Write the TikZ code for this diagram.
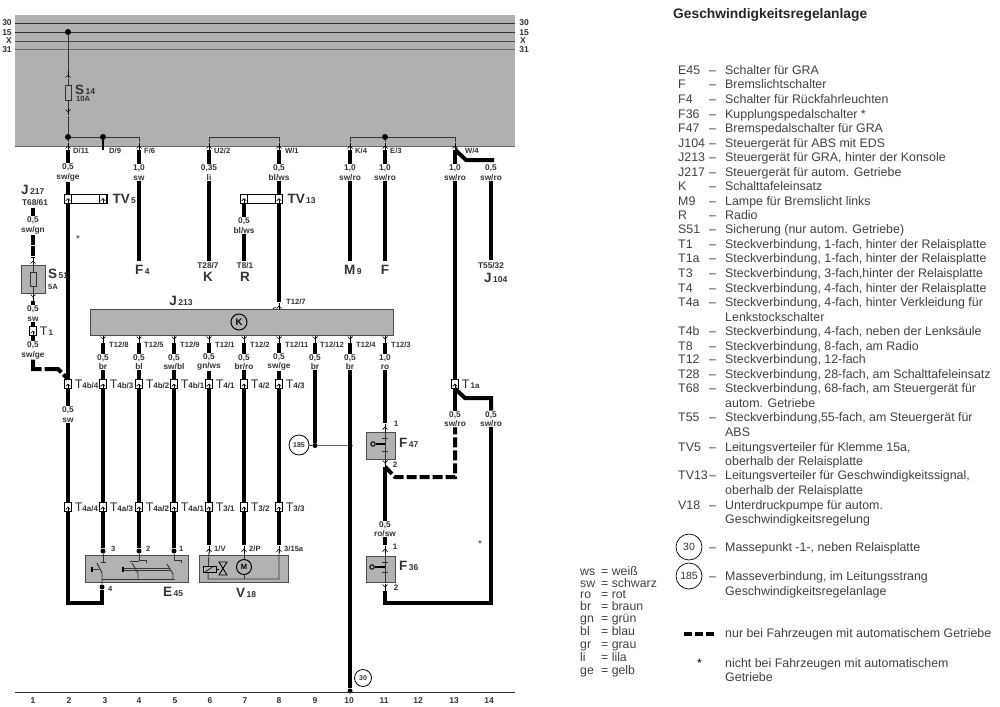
\documentclass[tikz,border=0pt]{standalone}
\usepackage{fontspec}
\setmainfont{Liberation Sans}
\usetikzlibrary{positioning}

\newcommand{\unitname}[2]{{\fontsize{13.5}{14}\selectfont\bfseries #1}{\fontsize{8.5}{9}\selectfont\bfseries #2}}
\newcommand{\plugname}[2]{{\fontsize{12.5}{14}\selectfont #1}{\fontsize{8}{9}\selectfont\bfseries #2}}
\newcommand{\legcode}[1]{\makebox[31pt][l]{#1}\makebox[16pt][l]{–}}

\begin{document}
\begin{tikzpicture}[x=1pt, y=-1pt,
	wire/.style={line width=4pt},
	autowire/.style={line width=4pt, dash pattern=on 10pt off 3pt},
	thinwire/.style={line width=0.9pt, black!80},
	main/.style={inner sep=0pt, text=black!80},
	wlab/.style={main, font=\fontsize{8.3}{9.5}\selectfont\bfseries, align=center, inner sep=0.5pt},
	pinlab/.style={main, font=\fontsize{7.6}{9}\selectfont\bfseries, anchor=west},
	plate/.style={main, anchor=west},
	legend/.style={anchor=west, inner sep=0pt, text=black!75, text height=9.4pt, text depth=1.4pt, font=\fontsize{12.4}{14}\selectfont},
	keyrow/.style={anchor=west, inner sep=0pt, text=black!75, text height=9.4pt, text depth=1.4pt, font=\fontsize{12.3}{14}\selectfont},
	colnum/.style={main, font=\fontsize{8.5}{9}\selectfont\bfseries},
	busnum/.style={main, font=\fontsize{8.5}{9}\selectfont\bfseries},
	dot/.style={circle, fill=black, inner sep=0pt, minimum size=6pt},
	smalldot/.style={circle, fill=black, inner sep=0pt, minimum size=5pt},
	fuse/.style={draw=black!80, line width=0.7pt, inner sep=0pt, minimum width=6pt, minimum height=15pt},
	unit/.style={draw=black!70, fill=black!30, line width=0.8pt, inner sep=0pt},
	massesym/.style={draw, circle, inner sep=0pt, line width=0.8pt, font=\fontsize{7}{8}\selectfont\bfseries, text=black!80},
	masselegend/.style={draw, circle, inner sep=0pt, line width=0.7pt, minimum size=26pt, font=\fontsize{10.5}{11}\selectfont, text=black!80},
	pinup/.style={inner sep=0pt, minimum width=6pt, minimum height=7pt, path picture={
		\draw[line width=0.7pt] (path picture bounding box.south) -- (path picture bounding box.north);
		\draw[line width=0.7pt] ([shift={(-2.5,2.5)}]path picture bounding box.center) -- (path picture bounding box.center) -- ([shift={(2.5,2.5)}]path picture bounding box.center);}},
	pindown/.style={inner sep=0pt, minimum width=6pt, minimum height=7pt, path picture={
		\draw[line width=0.7pt] (path picture bounding box.south) -- (path picture bounding box.north);
		\draw[line width=0.7pt] ([shift={(-2.5,-2.5)}]path picture bounding box.center) -- (path picture bounding box.center) -- ([shift={(2.5,-2.5)}]path picture bounding box.center);}},
	plug/.style={draw, fill=white, line width=0.6pt, inner sep=0pt, minimum width=7.5pt, minimum height=9pt, path picture={
		\draw[line width=0.7pt] (path picture bounding box.south) -- (path picture bounding box.center);
		\draw[line width=0.7pt] ([shift={(-2.3,2.3)}]path picture bounding box.center) -- (path picture bounding box.center) -- ([shift={(2.3,2.3)}]path picture bounding box.center);}}]

	\useasboundingbox (0,0) rectangle (1000,706);

	% panel with the four rails
	\fill[black!31] (15,15) rectangle (515,146);
	\coordinate (rail30a) at (15,23);
	\coordinate (rail30b) at (515,23);
	\coordinate (rail15a) at (15,32);
	\coordinate (rail15b) at (515,32);
	\coordinate (railxa) at (15,41);
	\coordinate (railxb) at (515,41);
	\coordinate (rail31a) at (15,50);
	\coordinate (rail31b) at (515,50);
	\coordinate (edgea) at (15,146);
	\coordinate (edgeb) at (515,146);
	\draw[line width=0.8pt, black!80] (rail30a) to (rail30b);
	\draw[line width=0.8pt, black!80] (rail15a) to (rail15b);
	\draw[line width=0.9pt, black!70] (railxa) to (railxb);
	\draw[line width=1pt, black!60] (rail31a) to (rail31b);
	\draw[line width=1pt, black!60] (edgea) to (edgeb);
	\node[busnum] (n30a) at (7,23) {30};
	\node[busnum] (n15a) at (7,33) {15};
	\node[busnum] (nxa) at (9,41) {X};
	\node[busnum] (n31a) at (7,50) {31};
	\node[busnum] (n30b) at (524,23) {30};
	\node[busnum] (n15b) at (524,33) {15};
	\node[busnum] (nxb) at (523,41) {X};
	\node[busnum] (n31b) at (524,50) {31};

	% fuse S14 and the feed
	\node[dot] (d15) at (68,32) {};
	\node[fuse] (s14) at (68,93) {};
	\node[dot] (dfeed) at (68,137) {};
	\node[dot] (dd9) at (103,137) {};
	\node[pinup] (s14up) at (68,75) {};
	\node[pindown] (s14dn) at (68,112) {};
	\node[plate] (ls14) at (75,90) {\unitname{S}{\,14}};
	\node[pinlab] (ls14a) at (76,99) {10A};
	\draw[thinwire] (d15) to (s14up);
	\draw[thinwire] (s14up) to (s14);
	\draw[thinwire] (s14) to (s14dn);
	\draw[thinwire] (s14dn) to (dfeed);

	% pins under the panel
	\node[pinup] (pd11) at (68,146) {};
	\node[pinup] (pf6) at (139,146) {};
	\node[pinup] (pu2) at (209,146) {};
	\node[pinup] (pw1) at (279,146) {};
	\node[pinup] (pk4) at (350,146) {};
	\node[pinup] (pe3) at (385,146) {};
	\node[pinup] (pw4) at (455,146) {};
	\node[dot] (de3) at (385,137) {};
	\coordinate (cf6) at (139,137);
	\coordinate (cu2) at (209,137);
	\coordinate (cw1) at (279,137);
	\coordinate (ck4) at (350,137);
	\coordinate (cw4) at (455,137);
	\coordinate (cd9) at (103,150);
	\draw[thinwire] (dfeed) to (pd11);
	\draw[thinwire] (dfeed) to (dd9);
	\draw[thinwire] (dd9) -- (cf6) -- (pf6);
	\draw[line width=1.5pt] (dd9) to (cd9);
	\draw[thinwire] (pu2) -- (cu2) -- (cw1) -- (pw1);
	\draw[thinwire] (pk4) -- (ck4) -- (de3);
	\draw[thinwire] (de3) -- (cw4) -- (pw4);
	\draw[thinwire] (de3) to (pe3);
	\node[pinlab] (ld11) at (73,151) {D/11};
	\node[pinlab] (ld9) at (109,151) {D/9};
	\node[pinlab] (lf6) at (144,151) {F/6};
	\node[pinlab] (lu2) at (214,151) {U2/2};
	\node[pinlab] (lw1) at (285,151) {W/1};
	\node[pinlab] (lk4) at (355,151) {K/4};
	\node[pinlab] (le3) at (390,151) {E/3};
	\node[pinlab] (lw4) at (465,151) {W/4};

	% upper wires
	\node[wlab] (w2) at (68,172.5) {0,5\\sw/ge};
	\node[wlab] (w4) at (139,172.5) {1,0\\sw};
	\node[wlab] (w6) at (209,172.5) {0,35\\li};
	\node[wlab] (w8) at (279,172.5) {0,5\\bl/ws};
	\node[wlab] (w10) at (350,172.5) {1,0\\sw/ro};
	\node[wlab] (w11) at (385,172.5) {1,0\\sw/ro};
	\node[wlab] (w13) at (455,172.5) {1,0\\sw/ro};
	\node[wlab] (w14) at (491,172.5) {0,5\\sw/ro};
	\node[wlab] (w7) at (244,225.5) {0,5\\bl/ws};
	\coordinate (ef4) at (139,261);
	\coordinate (ek) at (209,261);
	\coordinate (er) at (244,261);
	\coordinate (em9) at (350,261);
	\coordinate (ef) at (385,261);
	\coordinate (ej104) at (491,260);
	\coordinate (kink) at (466,160);
	\coordinate (top14) at (494,160);
	\draw[wire] (pd11) to (w2);
	\draw[wire] (pf6) to (w4);
	\draw[wire] (w4) to (ef4);
	\draw[wire] (pu2) to (w6);
	\draw[wire] (w6) to (ek);
	\draw[wire] (pw1) to (w8);
	\draw[wire] (pk4) to (w10);
	\draw[wire] (w10) to (em9);
	\draw[wire] (pe3) to (w11);
	\draw[wire] (w11) to (ef);
	\draw[wire] (pw4) to (w13);
	\draw[wire] (pw4.south) -- (kink) -- (top14);
	\draw[wire] (w14) to (ej104);
	\node[plate] (lf4) at (135,270) {\unitname{F}{\,4}};
	\node[wlab] (lt28) at (208,266) {T28/7};
	\node[main] (lk) at (208,277) {\fontsize{13.5}{14}\selectfont\bfseries K};
	\node[wlab] (lt8) at (245,266) {T8/1};
	\node[main] (lr) at (245,277) {\fontsize{13.5}{14}\selectfont\bfseries R};
	\node[plate] (lm9) at (344,270) {\unitname{M}{\,9}};
	\node[main] (lf) at (385,270) {\fontsize{13.5}{14}\selectfont\bfseries F};
	\node[wlab] (lt55) at (491,266) {T55/32};
	\node[plate] (lj104) at (484,278) {\unitname{J}{\,104}};

	% line distributors
	\node[draw, fill=white, line width=0.6pt, inner sep=0pt, minimum width=42pt, minimum height=9pt] (tv5) at (86,198.5) {};
	\node[plug] (tv5a) at (68,198.5) {};
	\node[plug] (tv5b) at (103,198.5) {};
	\node[plate, right=5pt of tv5] (ltv5) {\unitname{TV}{\,5}};
	\node[draw, fill=white, line width=0.6pt, inner sep=0pt, minimum width=42pt, minimum height=9pt] (tv13) at (261,198.5) {};
	\node[plug] (tv13a) at (244,198.5) {};
	\node[plug] (tv13b) at (279,198.5) {};
	\node[plate, right=5pt of tv13] (ltv13) {\unitname{TV}{\,13}};
	\node[main] (star1) at (78,239) {*};
	\draw[wire] (w2) to (tv5a);
	\draw[wire] (w8) to (tv13b);
	\draw[wire] (tv13a) to (w7);
	\draw[wire] (w7) to (er);

	% control unit J213
	\node[unit, minimum width=303pt, minimum height=26pt] (j213) at (241.5,322) {};
	\node[draw, circle, line width=1pt, minimum size=16pt, inner sep=0pt, font=\fontsize{9.5}{10}\selectfont\bfseries] (kclock) at (239,322) {K};
	\node[main] (lj213) at (181,301) {\unitname{J}{\,213}};
	\node[pinup] (pt127) at (279,306) {};
	\node[pinlab] (lt127) at (286,302) {T12/7};
	\draw[wire] (tv13b) to (pt127);
	\draw[thinwire] (pt127) to (j213);
	\node[pindown] (p1) at (103,339) {};
	\node[pindown] (p2) at (139,339) {};
	\node[pindown] (p3) at (174,339) {};
	\node[pindown] (p4) at (209,339) {};
	\node[pindown] (p5) at (244,339) {};
	\node[pindown] (p6) at (279,339) {};
	\node[pindown] (p7) at (315,339) {};
	\node[pindown] (p8) at (350,339) {};
	\node[pindown] (p9) at (385,339) {};
	\node[pinlab] (lp1) at (109,345) {T12/8};
	\node[pinlab] (lp2) at (144,345) {T12/5};
	\node[pinlab] (lp3) at (180,345) {T12/9};
	\node[pinlab] (lp4) at (215,345) {T12/1};
	\node[pinlab] (lp5) at (250,345) {T12/2};
	\node[pinlab] (lp6) at (285,345) {T12/11};
	\node[pinlab] (lp7) at (320,345) {T12/12};
	\node[pinlab] (lp8) at (356,345) {T12/4};
	\node[pinlab] (lp9) at (391,345) {T12/3};
	\node[wlab] (c3) at (103,362) {0,5\\br};
	\node[wlab] (c4) at (139,362) {0,5\\bl};
	\node[wlab] (c5) at (174,362) {0,5\\sw/bl};
	\node[wlab] (c6) at (209,362) {0,5\\gn/ws};
	\node[wlab] (c7) at (244,362) {0,5\\br/ro};
	\node[wlab] (c8) at (279,362) {0,5\\sw/ge};
	\node[wlab] (c9) at (315,362) {0,5\\br};
	\node[wlab] (c10) at (350,362) {0,5\\br};
	\node[wlab] (c11) at (385,362) {1,0\\ro};

	% upper row of plugs
	\node[plug] (b2) at (68,384) {};
	\node[plug] (b3) at (103,384) {};
	\node[plug] (b4) at (139,384) {};
	\node[plug] (b5) at (174,384) {};
	\node[plug] (b6) at (209,384) {};
	\node[plug] (b7) at (244,384) {};
	\node[plug] (b8) at (279,384) {};
	\node[plate, right=2.5pt of b2] (lb2) {\plugname{T}{4b/4}};
	\node[plate, right=2.5pt of b3] (lb3) {\plugname{T}{4b/3}};
	\node[plate, right=2.5pt of b4] (lb4) {\plugname{T}{4b/2}};
	\node[plate, right=2.5pt of b5] (lb5) {\plugname{T}{4b/1}};
	\node[plate, right=2.5pt of b6] (lb6) {\plugname{T}{4/1}};
	\node[plate, right=2.5pt of b7] (lb7) {\plugname{T}{4/2}};
	\node[plate, right=2.5pt of b8] (lb8) {\plugname{T}{4/3}};
	\node[wlab] (c2) at (68,414.5) {0,5\\sw};
	\draw[wire] (tv5a) to (b2);
	\draw[wire] (b2) to (c2);
	\draw[wire] (p1) to (c3);
	\draw[wire] (p2) to (c4);
	\draw[wire] (p3) to (c5);
	\draw[wire] (p4) to (c6);
	\draw[wire] (p5) to (c7);
	\draw[wire] (p6) to (c8);
	\draw[wire] (p7) to (c9);
	\draw[wire] (p8) to (c10);
	\draw[wire] (p9) to (c11);
	\draw[thinwire] (j213.south -| p1) to (p1);
	\draw[thinwire] (j213.south -| p2) to (p2);
	\draw[thinwire] (j213.south -| p3) to (p3);
	\draw[thinwire] (j213.south -| p4) to (p4);
	\draw[thinwire] (j213.south -| p5) to (p5);
	\draw[thinwire] (j213.south -| p6) to (p6);
	\draw[thinwire] (j213.south -| p7) to (p7);
	\draw[thinwire] (j213.south -| p8) to (p8);
	\draw[thinwire] (j213.south -| p9) to (p9);
	\draw[wire] (c3) to (b3);
	\draw[wire] (c4) to (b4);
	\draw[wire] (c5) to (b5);
	\draw[wire] (c6) to (b6);
	\draw[wire] (c7) to (b7);
	\draw[wire] (c8) to (b8);

	% lower row of plugs
	\node[plug] (a2) at (68,507) {};
	\node[plug] (a3) at (103,507) {};
	\node[plug] (a4) at (139,507) {};
	\node[plug] (a5) at (174,507) {};
	\node[plug] (a6) at (209,507) {};
	\node[plug] (a7) at (244,507) {};
	\node[plug] (a8) at (279,507) {};
	\node[plate, right=2.5pt of a2] (la2) {\plugname{T}{4a/4}};
	\node[plate, right=2.5pt of a3] (la3) {\plugname{T}{4a/3}};
	\node[plate, right=2.5pt of a4] (la4) {\plugname{T}{4a/2}};
	\node[plate, right=2.5pt of a5] (la5) {\plugname{T}{4a/1}};
	\node[plate, right=2.5pt of a6] (la6) {\plugname{T}{3/1}};
	\node[plate, right=2.5pt of a7] (la7) {\plugname{T}{3/2}};
	\node[plate, right=2.5pt of a8] (la8) {\plugname{T}{3/3}};
	\draw[wire] (c2) to (a2);
	\draw[wire] (b3) to (a3);
	\draw[wire] (b4) to (a4);
	\draw[wire] (b5) to (a5);
	\draw[wire] (b6) to (a6);
	\draw[wire] (b7) to (a7);
	\draw[wire] (b8) to (a8);

	% switch unit E45
	\node[unit, minimum width=103pt, minimum height=27pt] (e45) at (136.5,568.5) {};
	\node[smalldot] (e3) at (103,551) {};
	\node[smalldot] (e2) at (139,551) {};
	\node[smalldot] (e1) at (174,551) {};
	\node[smalldot] (e4) at (102,587) {};
	\coordinate (eloop) at (68,603);
	\coordinate (eloopb) at (102,603);
	\draw[wire] (a3) to (e3);
	\draw[wire] (a4) to (e2);
	\draw[wire] (a5) to (e1);
	\draw[wire] (a2) -- (eloop) -- (eloopb) -- (e4);
	\draw[thinwire] (e3) -- (103,562);
	\draw[thinwire] (100.5,562) -- (105.5,562);
	\draw[thinwire] (97,563) -- (102,573) -- (e4);
	\draw[thinwire] (93,569) -- (99,569);
	\draw[line width=2.5pt] (92,566.5) -- (92,571.5);
	\draw[thinwire] (102,579) -- (175,579);
	\draw[thinwire] (e2) -- (139,560.5) -- (146,560.5) -- (146,563);
	\draw[thinwire] (130,561) -- (139,561);
	\draw[thinwire] (132,563) -- (138,573) -- (138,579);
	\draw[line width=2.5pt] (123,566.5) -- (123,571.5);
	\draw[thinwire] (124,568) -- (170,568);
	\draw[thinwire] (124,570) -- (170,570);
	\draw[thinwire] (e1) -- (174,560) -- (181,560) -- (181,563);
	\draw[thinwire] (167,564) -- (173,574) -- (173,579);
	\node[pinlab] (le3a) at (111,549) {3};
	\node[pinlab] (le2) at (146,549) {2};
	\node[pinlab] (le1) at (179,549) {1};
	\node[pinlab] (le4) at (108,589) {4};
	\node[plate] (le45) at (163,592) {\unitname{E}{\,45}};

	% pump unit V18
	\node[unit, minimum width=89pt, minimum height=27pt] (v18) at (243.5,568.5) {};
	\node[pinup] (v1) at (209,549) {};
	\node[pinup] (v2) at (244,549) {};
	\node[pinup] (v3) at (279,549) {};
	\draw[wire] (a6) to (v1);
	\draw[wire] (a7) to (v2);
	\draw[wire] (a8) to (v3);
	\node[draw, circle, line width=1pt, minimum size=15pt, inner sep=0pt, font=\fontsize{7.5}{8}\selectfont\bfseries] (motor) at (244,567) {M};
	\coordinate (vl) at (208,579);
	\coordinate (vr) at (279,579);
	\coordinate (vm) at (244,579);
	\draw[thinwire] (v1) -- (vl) -- (vr) -- (v3);
	\draw[thinwire] (v2) to (motor);
	\draw[thinwire] (motor) to (vm);
	\draw[line width=0.8pt, fill=black!30] (203,566) rectangle (216,572);
	\draw[line width=0.6pt] (205,572) -- (214,566);
	\draw[line width=0.8pt] (216,569) -- (219,569);
	\draw[line width=0.9pt] (219,562) -- (227,562) -- (219,575) -- (227,575) -- cycle;
	\node[pinlab] (lv1) at (214,549) {1/V};
	\node[pinlab] (lv2) at (249,549) {2/P};
	\node[pinlab] (lv3) at (284,549) {3/15a};
	\node[plate] (lv18) at (236,593) {\unitname{V}{\,18}};

	% ground points
	\node[massesym, minimum size=20pt] (m185) at (299,445) {185};
	\node[smalldot] (g9) at (315,445.5) {};
	\node[smalldot] (g10) at (350,445.5) {};
	\node[smalldot] (gnd) at (350,691) {};
	\node[massesym, minimum size=17pt] (m30) at (363,678) {30};
	\draw[wire] (c9) to (g9);
	\draw[thinwire] (m185) to (g9);
	\draw[line width=1pt, black!60] (g9) to (g10);
	\draw[wire] (c10) to (gnd);

	% sensor S51 with J217
	\node[plate] (lj217) at (21,190) {\unitname{J}{\,217}};
	\node[wlab] (lt68) at (35,203) {T68/61};
	\node[wlab] (gn1) at (33,225.5) {0,5\\sw/gn};
	\node[unit, minimum width=24pt, minimum height=28pt] (s51box) at (33,279) {};
	\node[fuse, minimum height=14pt] (s51) at (33,279) {};
	\node[pinup] (s51a) at (33,261) {};
	\node[pindown] (s51b) at (33,297) {};
	\node[plate] (ls51) at (48,274) {\unitname{S}{\,51}};
	\node[pinlab] (ls51a) at (48,287) {5A};
	\node[wlab] (sw1) at (33,313.5) {0,5\\sw};
	\node[plug] (t1) at (33,331) {};
	\node[plate, right=2.5pt of t1] (lt1) {\plugname{T}{\,1}};
	\node[wlab] (ge1) at (33,350.5) {0,5\\sw/ge};
	\coordinate (top217) at (33,208);
	\coordinate (low217a) at (33,369);
	\coordinate (low217b) at (58,369);
	\draw[wire] (top217) to (gn1);
	\draw[autowire, dash pattern=on 10pt off 1pt] (gn1) to (s51a);
	\draw[thinwire] (s51a) to (s51);
	\draw[thinwire] (s51) to (s51b);
	\draw[wire] (s51b) to (sw1);
	\draw[wire] (sw1) to (t1);
	\draw[wire] (t1) to (ge1);
	\draw[autowire, dash pattern=on 18pt off 3pt] (ge1) -- (low217a) -- (low217b) -- (b2.north);

	% brake switch F47 and clutch switch F36
	\node[unit, minimum width=29pt, minimum height=27pt] (f47) at (380.5,445.5) {};
	\node[pinup] (f47a) at (385,427) {};
	\node[pindown] (f47b) at (385,463) {};
	\node[main, font=\fontsize{8}{9}\selectfont\bfseries] (f47n1) at (396,424) {1};
	\node[main, font=\fontsize{8}{9}\selectfont\bfseries] (f47n2) at (395,465) {2};
	\node[plate] (lf47) at (399,443) {\unitname{F}{\,47}};
	\draw[thinwire] (f47a) to (f47b);
	\draw[thinwire] (382,438) -- (388,438);
	\draw[thinwire] (382,451) -- (388,451);
	\draw[line width=2pt] (376,444) -- (385,444);
	\draw[line width=1pt, fill=black!30] (373,444) circle (2.2);
	\draw[wire] (c11) to (f47a);
	\node[wlab] (f36lab) at (385,529) {0,5\\ro/sw};
	\node[unit, minimum width=29pt, minimum height=26pt] (f36) at (380.5,569) {};
	\node[pinup] (f36a) at (385,549) {};
	\node[pindown] (f36b) at (385,587) {};
	\node[main, font=\fontsize{8}{9}\selectfont\bfseries] (f36n1) at (395,547) {1};
	\node[main, font=\fontsize{8}{9}\selectfont\bfseries] (f36n2) at (396,588) {2};
	\node[plate] (lf36) at (399,566) {\unitname{F}{\,36}};
	\draw[thinwire] (f36a) to (f36b);
	\draw[thinwire] (382,562) -- (388,562);
	\draw[thinwire] (382,572) -- (388,572);
	\draw[line width=2pt] (375,567) -- (385,567);
	\draw[line width=1pt, fill=black!30] (372,567) circle (2.2);
	\draw[wire] (f47b) to (f36lab);
	\draw[wire] (f36lab) to (f36a);

	% right hand branch
	\node[plug] (t1a) at (455,384) {};
	\node[plate, right=2.5pt of t1a] (lt1a) {\plugname{T}{\,1a}};
	\node[wlab] (r13) at (455,419) {0,5\\sw/ro};
	\node[wlab] (r14) at (491,419) {0,5\\sw/ro};
	\node[main] (star2) at (480,544) {*};
	\coordinate (k14a) at (465,398);
	\coordinate (k14b) at (491,398);
	\coordinate (lowa) at (491,603);
	\coordinate (lowb) at (385,603);
	\coordinate (dasha) at (455,477);
	\coordinate (dashb) at (395,477);
	\draw[wire] (w13) to (t1a);
	\draw[wire] (t1a) to (r13);
	\draw[wire] (t1a.south) -- (k14a) -- (k14b) -- (r14);
	\draw[wire] (r14) -- (lowa) -- (lowb) -- (f36b);
	\draw[autowire] (f47b.south) -- (dashb) -- (dasha) -- (r13);

	% bottom scale
	\coordinate (scalea) at (15,692);
	\coordinate (scaleb) at (515,692);
	\draw[line width=0.8pt, black!80] (scalea) to (scaleb);
	\node[colnum] (z1) at (33,701) {1};
	\node[colnum] (z2) at (69,701) {2};
	\node[colnum] (z3) at (105,701) {3};
	\node[colnum] (z4) at (139,701) {4};
	\node[colnum] (z5) at (175,701) {5};
	\node[colnum] (z6) at (210,701) {6};
	\node[colnum] (z7) at (245,701) {7};
	\node[colnum] (z8) at (279,701) {8};
	\node[colnum] (z9) at (315,701) {9};
	\node[colnum] (z10) at (349,701) {10};
	\node[colnum] (z11) at (384,701) {11};
	\node[colnum] (z12) at (418,701) {12};
	\node[colnum] (z13) at (454,701) {13};
	\node[colnum] (z14) at (489,701) {14};

	% legend
	\node[anchor=west, inner sep=0pt, font=\fontsize{13.8}{15}\selectfont\bfseries, text=black!85] (title) at (673,15) {Geschwindigkeitsregelanlage};
	\node[legend] (e45t) at (678,71) {\legcode{E45}Schalter für GRA};
	\node[legend] (ft) at (678,85) {\legcode{F}Bremslichtschalter};
	\node[legend] (f4t) at (678,100) {\legcode{F4}Schalter für Rückfahrleuchten};
	\node[legend] (f36t) at (678,114) {\legcode{F36}Kupplungspedalschalter *};
	\node[legend] (f47t) at (678,128) {\legcode{F47}Bremspedalschalter für GRA};
	\node[legend] (j104t) at (678,143) {\legcode{J104}Steuergerät für ABS mit EDS};
	\node[legend] (j213t) at (678,157) {\legcode{J213}Steuergerät für GRA, hinter der Konsole};
	\node[legend] (j217t) at (678,172) {\legcode{J217}Steuergerät für autom. Getriebe};
	\node[legend] (kt) at (678,186) {\legcode{K}Schalttafeleinsatz};
	\node[legend] (m9t) at (678,201) {\legcode{M9}Lampe für Bremslicht links};
	\node[legend] (rt) at (678,215) {\legcode{R}Radio};
	\node[legend] (s51t) at (678,229) {\legcode{S51}Sicherung (nur autom. Getriebe)};
	\node[legend] (t1t) at (678,244) {\legcode{T1}Steckverbindung, 1-fach, hinter der Relaisplatte};
	\node[legend] (t1at) at (678,258) {\legcode{T1a}Steckverbindung, 1-fach, hinter der Relaisplatte};
	\node[legend] (t3t) at (678,273) {\legcode{T3}Steckverbindung, 3-fach,hinter der Relaisplatte};
	\node[legend] (t4t) at (678,288) {\legcode{T4}Steckverbindung, 4-fach, hinter der Relaisplatte};
	\node[legend] (t4at) at (678,302) {\legcode{T4a}Steckverbindung, 4-fach, hinter Verkleidung für};
	\node[legend] (t4au) at (725,317) {Lenkstockschalter};
	\node[legend] (t4bt) at (678,331) {\legcode{T4b}Steckverbindung, 4-fach, neben der Lenksäule};
	\node[legend] (t8t) at (678,346) {\legcode{T8}Steckverbindung, 8-fach, am Radio};
	\node[legend] (t12t) at (678,359) {\legcode{T12}Steckverbindung, 12-fach};
	\node[legend] (t28t) at (678,374) {\legcode{T28}Steckverbindung, 28-fach, am Schalttafeleinsatz};
	\node[legend] (t68t) at (678,388) {\legcode{T68}Steckverbindung, 68-fach, am Steuergerät für};
	\node[legend] (t68u) at (725,403) {autom. Getriebe};
	\node[legend] (t55t) at (678,417) {\legcode{T55}Steckverbindung,55-fach, am Steuergerät für};
	\node[legend] (t55u) at (725,432) {ABS};
	\node[legend] (tv5t) at (678,447) {\legcode{TV5}Leitungsverteiler für Klemme 15a,};
	\node[legend] (tv5u) at (725,461) {oberhalb der Relaisplatte};
	\node[legend] (tv13t) at (678,475) {\legcode{TV13}Leitungsverteiler für Geschwindigkeitssignal,};
	\node[legend] (tv13u) at (725,490) {oberhalb der Relaisplatte};
	\node[legend] (v18t) at (678,505) {\legcode{V18}Unterdruckpumpe für autom.};
	\node[legend] (v18u) at (725,519) {Geschwindigkeitsregelung};

	% legend for ground points and marks
	\node[masselegend] (lm30) at (689,547) {30};
	\node[legend] (dm30) at (709,547) {–};
	\node[legend] (tm30) at (725,547) {Massepunkt -1-, neben Relaisplatte};
	\node[masselegend] (lm185) at (689,576) {185};
	\node[legend] (dm185) at (709,576) {–};
	\node[legend] (tm185) at (725,576) {Masseverbindung, im Leitungsstrang};
	\node[legend] (tm185b) at (725,591) {Geschwindigkeitsregelanlage};
	\coordinate (sample1) at (684,634);
	\coordinate (sample2) at (714,634);
	\draw[line width=4pt, dash pattern=on 8pt off 3pt] (sample1) to (sample2);
	\node[legend] (tsample) at (725,633) {nur bei Fahrzeugen mit automatischem Getriebe};
	\node[legend, text=black] (lstar) at (697,663) {*};
	\node[legend] (tstar) at (725,663) {nicht bei Fahrzeugen mit automatischem};
	\node[legend] (tstarb) at (725,677) {Getriebe};

	% wire colour key
	\node[keyrow] (kws) at (580,571) {ws};
	\node[keyrow] (ews) at (601,571) {= weiß};
	\node[keyrow] (ksw) at (580,583) {sw};
	\node[keyrow] (esw) at (601,583) {= schwarz};
	\node[keyrow] (kro) at (580,594) {ro};
	\node[keyrow] (ero) at (601,594) {= rot};
	\node[keyrow] (kbr) at (580,606) {br};
	\node[keyrow] (ebr) at (601,606) {= braun};
	\node[keyrow] (kgn) at (580,618) {gn};
	\node[keyrow] (egn) at (601,618) {= grün};
	\node[keyrow] (kbl) at (580,631) {bl};
	\node[keyrow] (ebl) at (601,631) {= blau};
	\node[keyrow] (kgr) at (580,644) {gr};
	\node[keyrow] (egr) at (601,644) {= grau};
	\node[keyrow] (kli) at (580,657) {li};
	\node[keyrow] (eli) at (601,657) {= lila};
	\node[keyrow] (kge) at (580,670) {ge};
	\node[keyrow] (ege) at (601,670) {= gelb};
\end{tikzpicture}
\end{document}
